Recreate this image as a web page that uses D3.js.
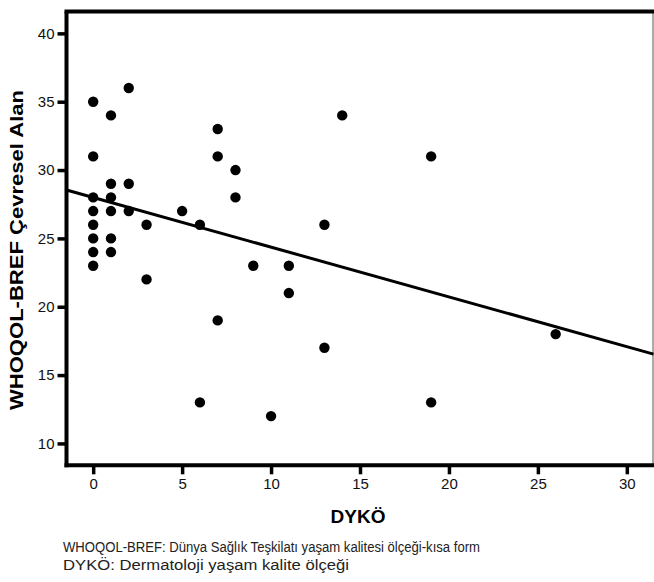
<!DOCTYPE html>
<html>
<head>
<meta charset="utf-8">
<script src="https://cdn.jsdelivr.net/npm/d3@7"></script>
<style>
    html, body { margin: 0; padding: 0; background: #fff; }
    svg { display: block; font-family: "Liberation Sans", Arial, Helvetica, sans-serif; }
</style>
</head>
<body>
<div id="chart"></div>
<script>
// DYKÖ score (x) and WHOQOL-BREF environmental domain (y)
const dykoValues = [
    0, 0, 0, 0, 0, 0, 0, 0,
    1, 1, 1, 1, 1, 1,
    2, 2, 2,
    3, 3,
    5,
    6, 6,
    7, 7, 7,
    8, 8,
    9,
    10,
    11, 11,
    13, 13,
    14,
    19, 19,
    26
];
const cevreselValues = [
    35, 31, 28, 27, 26, 25, 24, 23,
    34, 29, 28, 27, 25, 24,
    36, 29, 27,
    26, 22,
    27,
    26, 13,
    33, 31, 19,
    30, 28,
    23,
    12,
    23, 21,
    26, 17,
    34,
    31, 13,
    18
];

const xTicks = [0, 5, 10, 15, 20, 25, 30];
const yTicks = [10, 15, 20, 25, 30, 35, 40];

// fitted line as drawn in the figure
const fitIntercept = 28.0;
const fitSlope = -0.364;

const xTitle = 'DYKÖ';
const yTitle = 'WHOQOL-BREF Çevresel Alan';
const notes = [
    'WHOQOL-BREF: Dünya Sağlık Teşkilatı yaşam kalitesi ölçeği-kısa form',
    'DYKÖ: Dermatoloji yaşam kalite ölçeği'
];

const width = 654;
const height = 582;
const plot = {left: 66.5, right: 653.5, top: 11.5, bottom: 465.3};

const svg = d3.select('#chart')
    .append('svg')
    .attr('width', width)
    .attr('height', height);

const x = d3.scaleLinear()
    .domain([-1.5, 31.5])
    .range([plot.left, plot.right]);

const y = d3.scaleLinear()
    .domain([8.4, 41.6])
    .range([plot.bottom, plot.top]);

// frame: thin right edge, heavy top
svg.append('line')
    .attr('x1', 653).attr('x2', 653)
    .attr('y1', plot.top).attr('y2', plot.bottom)
    .attr('stroke', '#555')
    .attr('stroke-width', 1);

svg.append('line')
    .attr('x1', plot.left - 2).attr('x2', width)
    .attr('y1', plot.top).attr('y2', plot.top)
    .attr('stroke', '#000')
    .attr('stroke-width', 4);

const xAxis = svg.append('g')
    .attr('transform', `translate(0, ${plot.bottom})`)
    .call(d3.axisBottom(x).tickValues(xTicks).tickSize(9).tickPadding(4).tickSizeOuter(0));

const yAxis = svg.append('g')
    .attr('transform', `translate(${plot.left}, 0)`)
    .call(d3.axisLeft(y).tickValues(yTicks).tickSize(9).tickPadding(3).tickSizeOuter(0));

[xAxis, yAxis].forEach(g => {
    g.attr('font-size', 15).attr('font-family', '"Liberation Sans", Arial, sans-serif');
    g.select('.domain')
        .attr('stroke', '#000')
        .attr('stroke-width', 4);
    g.selectAll('.tick line')
        .attr('stroke', '#000')
        .attr('stroke-width', 3.5);
    g.selectAll('.tick text')
        .attr('fill', '#111');
});
// stretch the axis lines into the corner like the original
xAxis.select('.domain').attr('d', `M${plot.left - 2},0H${width}`);
yAxis.select('.domain').attr('d', `M0,${plot.top}V${plot.bottom + 2}`);

svg.append('clipPath').attr('id', 'plot-clip')
    .append('rect')
    .attr('x', plot.left).attr('y', plot.top)
    .attr('width', width - plot.left).attr('height', plot.bottom - plot.top);

const xDomain = x.domain();
svg.append('line')
    .attr('clip-path', 'url(#plot-clip)')
    .attr('x1', x(xDomain[0])).attr('y1', y(fitIntercept + fitSlope * xDomain[0]))
    .attr('x2', x(xDomain[1])).attr('y2', y(fitIntercept + fitSlope * xDomain[1]))
    .attr('stroke', '#000')
    .attr('stroke-width', 3);

svg.append('g')
    .selectAll('circle')
    .data(dykoValues.map((d, i) => [d, cevreselValues[i]]))
    .enter()
    .append('circle')
    .attr('cx', d => x(d[0]))
    .attr('cy', d => y(d[1]))
    .attr('r', 5.2)
    .attr('fill', '#000');

svg.append('text')
    .attr('x', (plot.left + plot.right) / 2 - 2)
    .attr('y', 523)
    .attr('text-anchor', 'middle')
    .style('font-size', '19px')
    .style('font-weight', 'bold')
    .text(xTitle);

svg.append('text')
    .attr('transform', 'translate(23, 250) rotate(-90)')
    .attr('text-anchor', 'middle')
    .attr('textLength', 320)
    .attr('lengthAdjust', 'spacingAndGlyphs')
    .style('font-size', '19px')
    .style('font-weight', 'bold')
    .text(yTitle);

// the two note lines have different glyph widths in the source, fit each one
const noteWidths = [417, 286];
svg.selectAll('.note')
    .data(notes)
    .enter()
    .append('text')
    .attr('class', 'note')
    .attr('x', 63)
    .attr('y', (d, i) => 552 + i * 18)
    .attr('textLength', (d, i) => noteWidths[i])
    .attr('lengthAdjust', 'spacingAndGlyphs')
    .attr('fill', '#222')
    .style('font-size', '15.5px')
    .text(d => d);
</script>
</body>
</html>
